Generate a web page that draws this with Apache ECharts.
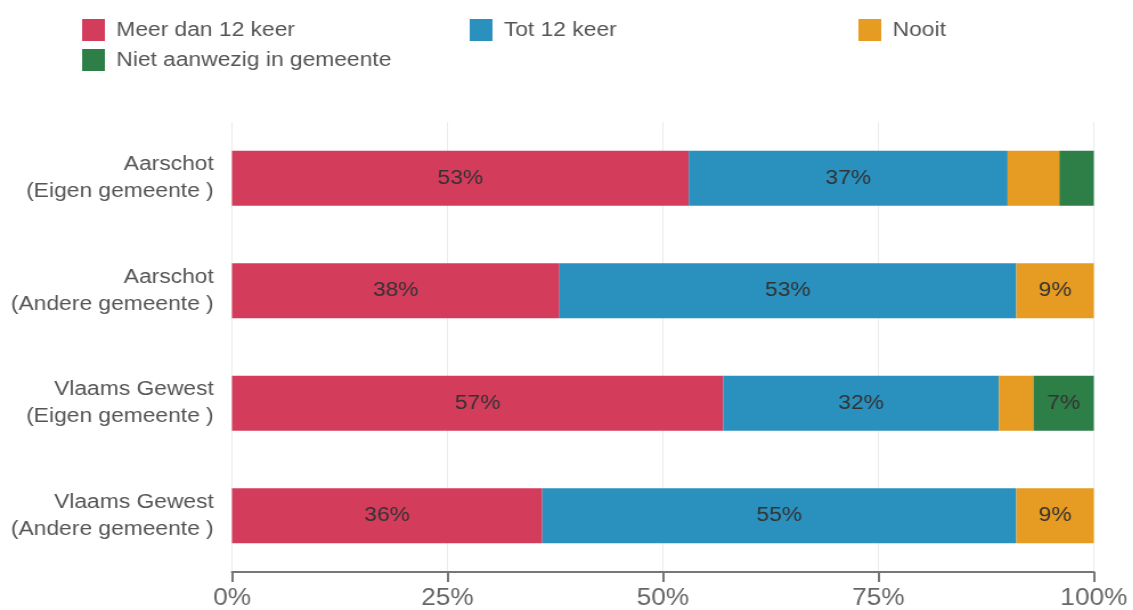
<!DOCTYPE html>
<html><head><meta charset="utf-8">
<script src="https://cdn.jsdelivr.net/npm/echarts@6/dist/echarts.min.js"></script>
<style>html,body{margin:0;padding:0;background:#fff;overflow:hidden;width:1133px;height:610px}
#c{width:994px;height:610px;transform:scaleX(1.14);transform-origin:0 0}</style>
</head><body><div id="c"></div>
<script>
const categories = ["Aarschot\n(Eigen gemeente )", "Aarschot\n(Andere gemeente )", "Vlaams Gewest\n(Eigen gemeente )", "Vlaams Gewest\n(Andere gemeente )"];
const seriesNames = ["Meer dan 12 keer", "Tot 12 keer", "Nooit", "Niet aanwezig in gemeente"];
const meerDan12 = [53, 38, 57, 36];
const tot12 = [37, 53, 32, 55];
const nooit = [6, 9, 4, 9];
const nietAanwezig = [4, 0, 7, 0];
const xTicks = [0, 25, 50, 75, 100];
const colors = ["#d43c5c", "#2a91bf", "#e69b22", "#2e7e47"];
const values = [meerDan12, tot12, nooit, nietAanwezig];

const font = "Liberation Sans";
const chart = echarts.init(document.getElementById('c'));
const legendPos = [[67, 14], [407, 14], [748, 14], [67, 44]];
chart.setOption({
  animation: false,
  textStyle: {fontFamily: font},
  legend: seriesNames.map((n, i) => ({
    data: [n], left: legendPos[i][0], top: legendPos[i][1],
    itemWidth: 20, itemHeight: 22, itemGap: 10, icon: 'rect',
    textStyle: {fontSize: 20, color: '#555', fontFamily: font, padding: [0, 0, 0, 5]}, selectedMode: false
  })),
  grid: {left: 203.5, right: 34.5, top: 122, bottom: 38},
  xAxis: {
    type: 'value', min: 0, max: 100, interval: 25,
    axisLine: {show: true, lineStyle: {color: '#777', width: 2}},
    axisTick: {show: true, length: 10, lineStyle: {color: '#777', width: 2}},
    axisLabel: {fontSize: 23, color: '#666', margin: 15, formatter: v => xTicks.includes(v) ? v + '%' : ''},
    splitLine: {show: true, lineStyle: {color: '#ebebeb', width: 1}}
  },
  yAxis: {
    type: 'category', data: categories, inverse: true,
    axisLine: {show: false}, axisTick: {show: false},
    axisLabel: {fontSize: 20, color: '#555', lineHeight: 27, margin: 16, align: 'right'}
  },
  series: seriesNames.map((n, i) => ({
    name: n, type: 'bar', stack: 'total', data: values[i],
    itemStyle: {color: colors[i]},
    barWidth: 55,
    label: {show: true, position: 'inside', fontSize: 20, color: '#333', fontFamily: font,
      formatter: p => p.value >= 7 ? p.value + '%' : ''}
  }))
});
</script></body></html>
